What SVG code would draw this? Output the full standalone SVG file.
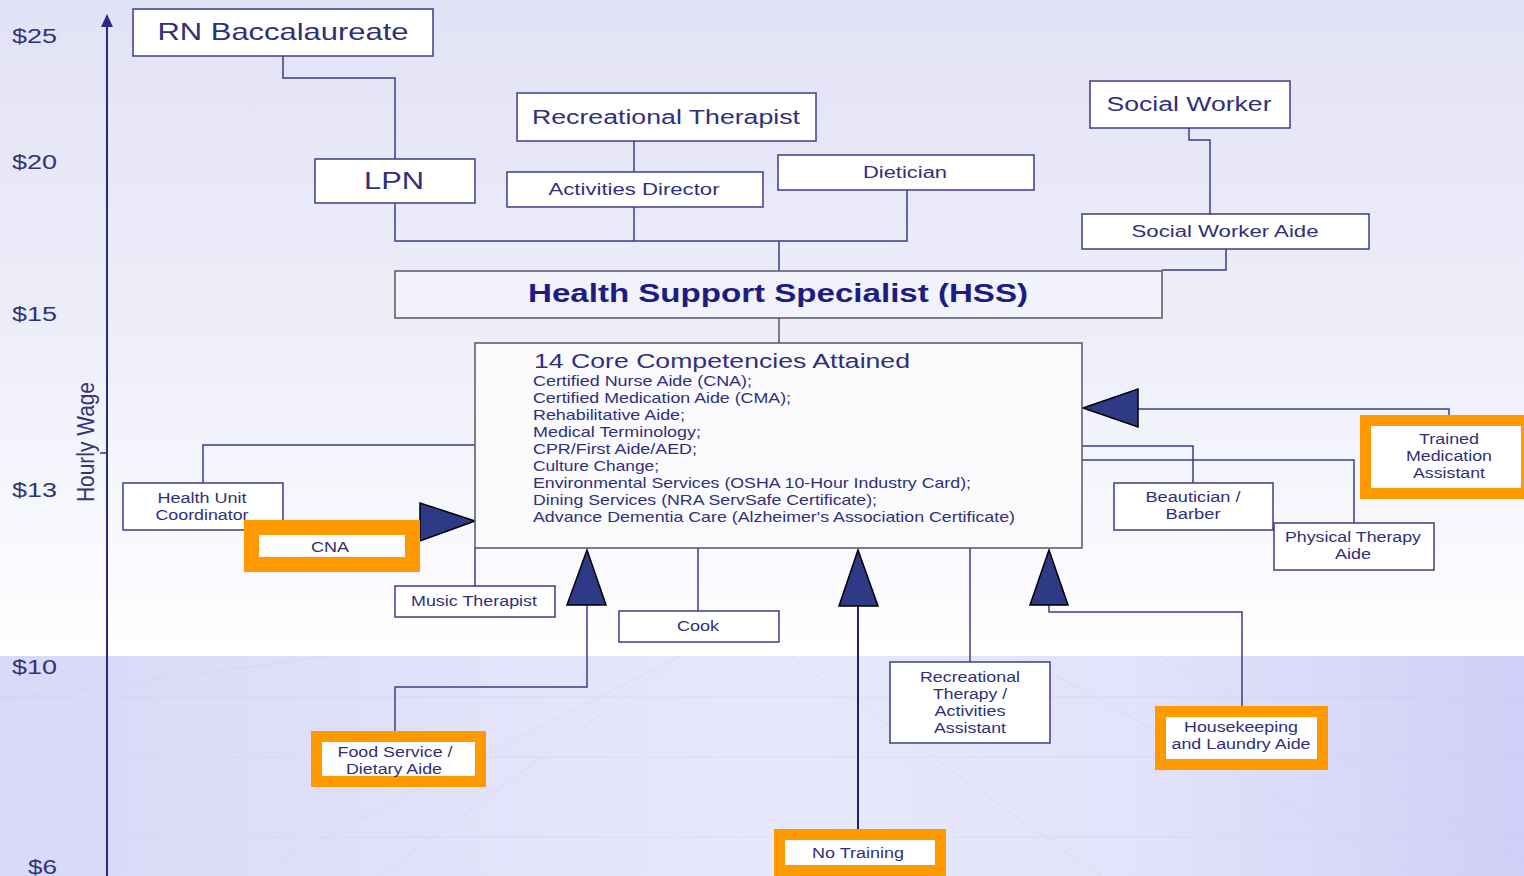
<svg xmlns="http://www.w3.org/2000/svg" width="1524" height="876" viewBox="0 0 1524 876">
<defs>
<linearGradient id="bgTop" x1="0" y1="0" x2="0" y2="1">
<stop offset="0" stop-color="#e2e2f6"/>
<stop offset="0.45" stop-color="#ececf9"/>
<stop offset="0.85" stop-color="#f9f9fe"/>
<stop offset="1" stop-color="#ffffff"/>
</linearGradient>
<linearGradient id="bgBot" x1="0" y1="0" x2="1" y2="0">
<stop offset="0" stop-color="#d8d8f8"/>
<stop offset="0.5" stop-color="#e8e8fb"/>
<stop offset="0.75" stop-color="#e2e2fa"/>
<stop offset="1" stop-color="#cfcff7"/>
</linearGradient>
</defs>
<style>
.box{fill:#ffffff;stroke:#3c3c8c;stroke-width:1.5}
.gbox{fill:#fbfbfe;stroke:#555566;stroke-width:1.5}
.obox{fill:#ffffff;stroke:#ff9900}
.t{font-family:"Liberation Sans",Arial,sans-serif;fill:#30307a}
.c{text-anchor:middle}
.big{font-size:24px}
.mid{font-size:20px}
.sm{font-size:16px}
.xs{font-size:14px}
.core{font-size:14.5px}
.hss{font-family:"Liberation Sans",Arial,sans-serif;font-weight:bold;font-size:26px;fill:#1c1c84;text-anchor:middle}
.ln{fill:none;stroke:#3c3c8c;stroke-width:1.5}
.gl{fill:none;stroke:#555566;stroke-width:1.5}
.tri{fill:#2e3a86;stroke:#000000;stroke-width:1.5;stroke-linejoin:miter}
.faint{stroke:#c9c9ef;stroke-width:1;opacity:0.35}
.wage{font-family:"Liberation Sans",Arial,sans-serif;font-size:20px;fill:#33337a}
</style>

<!-- background -->
<rect x="0" y="0" width="1524" height="656" fill="url(#bgTop)"/>
<rect x="0" y="656" width="1524" height="220" fill="url(#bgBot)"/>
<g class="faint">
<line x1="0" y1="697" x2="1524" y2="697"/>
<line x1="0" y1="757" x2="1524" y2="757"/>
<line x1="0" y1="837" x2="1524" y2="837"/>
<line x1="280" y1="860" x2="680" y2="656"/>
<line x1="380" y1="876" x2="680" y2="656"/>
<line x1="1160" y1="656" x2="1524" y2="860"/>
<line x1="1020" y1="656" x2="1420" y2="876"/>
<line x1="790" y1="656" x2="1100" y2="876"/>
<line x1="0" y1="700" x2="330" y2="656"/>
</g>

<!-- axis -->
<g id="axis">
<line x1="107" y1="26" x2="107" y2="876" stroke="#2b2b7e" stroke-width="2"/>
<polygon points="107,14 101,27 113,27" fill="#2b2b7e"/>
<line x1="100" y1="453" x2="107" y2="453" stroke="#2b2b7e" stroke-width="1.5"/>
<text class="wage" x="12" y="43" textLength="45" lengthAdjust="spacingAndGlyphs">$25</text>
<text class="wage" x="12" y="169" textLength="45" lengthAdjust="spacingAndGlyphs">$20</text>
<text class="wage" x="12" y="321" textLength="45" lengthAdjust="spacingAndGlyphs">$15</text>
<text class="wage" x="12" y="497" textLength="45" lengthAdjust="spacingAndGlyphs">$13</text>
<text class="wage" x="12" y="674" textLength="45" lengthAdjust="spacingAndGlyphs">$10</text>
<text class="wage" x="28" y="874" textLength="29" lengthAdjust="spacingAndGlyphs">$6</text>
<text class="wage" transform="translate(94,442) rotate(-90)" x="0" y="0" text-anchor="middle" style="font-size:23px" textLength="120" lengthAdjust="spacingAndGlyphs">Hourly Wage</text>
</g>

<!-- connectors -->
<g id="connectors">
<path class="ln" d="M283,56 V78 H395 V159"/>
<path class="ln" d="M395,203 V241 H907 V190"/>
<path class="ln" d="M634,141 V172"/>
<path class="ln" d="M634,207 V241"/>
<path class="ln" d="M779,241 V271"/>
<path class="ln" d="M1189,128 V140 H1210 V214"/>
<path class="ln" d="M1226,249 V270 H1162"/>
<path class="gl" d="M779,318 V343"/>
<path class="ln" d="M475,445 H203 V483"/>
<path class="ln" d="M475,548 V586"/>
<path class="ln" d="M395,731 V687 H587 V605"/>
<path class="ln" d="M698,548 V611"/>
<path class="ln" d="M858,829 V606" style="stroke:#22226e;stroke-width:2"/>
<path class="ln" d="M970,548 V662"/>
<path class="ln" d="M1242,706 V612 H1049 V605"/>
<path class="ln" d="M1449,415 V409 H1138"/>
<path class="ln" d="M1082,446 H1193 V483"/>
<path class="ln" d="M1082,460 H1354 V523"/>
<polygon class="tri" points="475,521 420,503 420,541"/>
<polygon class="tri" points="587,550 567,605 606,605"/>
<polygon class="tri" points="858,550 839,606 878,606"/>
<polygon class="tri" points="1049,550 1030,605 1068,605"/>
<polygon class="tri" points="1083,408 1138,389 1138,427"/>
</g>

<!-- nodes -->
<g id="rn">
<rect class="box" x="133" y="9" width="300" height="47"/>
<text class="t big c" x="283" y="40" textLength="251" lengthAdjust="spacingAndGlyphs">RN Baccalaureate</text>
</g>
<g id="lpn">
<rect class="box" x="315" y="159" width="160" height="44"/>
<text class="t big c" x="394" y="189" textLength="60" lengthAdjust="spacingAndGlyphs">LPN</text>
</g>
<g id="rec-therapist">
<rect class="box" x="517" y="93" width="299" height="48"/>
<text class="t mid c" x="666" y="124" textLength="268" lengthAdjust="spacingAndGlyphs">Recreational Therapist</text>
</g>
<g id="activities-director">
<rect class="box" x="507" y="172" width="256" height="35"/>
<text class="t sm c" x="634" y="195" textLength="171" lengthAdjust="spacingAndGlyphs">Activities Director</text>
</g>
<g id="dietician">
<rect class="box" x="778" y="155" width="256" height="35"/>
<text class="t sm c" x="905" y="178" textLength="84" lengthAdjust="spacingAndGlyphs">Dietician</text>
</g>
<g id="social-worker">
<rect class="box" x="1090" y="81" width="200" height="47"/>
<text class="t mid c" x="1189" y="111" textLength="165" lengthAdjust="spacingAndGlyphs">Social Worker</text>
</g>
<g id="social-worker-aide">
<rect class="box" x="1082" y="214" width="287" height="35"/>
<text class="t sm c" x="1225" y="237" textLength="187" lengthAdjust="spacingAndGlyphs">Social Worker Aide</text>
</g>
<g id="hss">
<rect class="gbox" x="395" y="271" width="767" height="47" style="fill:#f2f2fb"/>
<text class="hss" x="778" y="302" textLength="500" lengthAdjust="spacingAndGlyphs">Health Support Specialist (HSS)</text>
</g>
<g id="core">
<rect class="gbox" x="475" y="343" width="607" height="205"/>
<text class="t mid" x="534" y="368" textLength="376" lengthAdjust="spacingAndGlyphs">14 Core Competencies Attained</text>
<text class="t core" x="533" y="386" textLength="219" lengthAdjust="spacingAndGlyphs">Certified Nurse Aide (CNA);</text>
<text class="t core" x="533" y="403" textLength="258" lengthAdjust="spacingAndGlyphs">Certified Medication Aide (CMA);</text>
<text class="t core" x="533" y="420" textLength="152" lengthAdjust="spacingAndGlyphs">Rehabilitative Aide;</text>
<text class="t core" x="533" y="437" textLength="168" lengthAdjust="spacingAndGlyphs">Medical Terminology;</text>
<text class="t core" x="533" y="454" textLength="164" lengthAdjust="spacingAndGlyphs">CPR/First Aide/AED;</text>
<text class="t core" x="533" y="471" textLength="126" lengthAdjust="spacingAndGlyphs">Culture Change;</text>
<text class="t core" x="533" y="488" textLength="438" lengthAdjust="spacingAndGlyphs">Environmental Services (OSHA 10-Hour Industry Card);</text>
<text class="t core" x="533" y="505" textLength="344" lengthAdjust="spacingAndGlyphs">Dining Services (NRA ServSafe Certificate);</text>
<text class="t core" x="533" y="522" textLength="482" lengthAdjust="spacingAndGlyphs">Advance Dementia Care (Alzheimer's Association Certificate)</text>
</g>
<g id="health-unit-coordinator">
<rect class="box" x="123" y="483" width="160" height="47"/>
<text class="t xs c" x="202" y="503" textLength="89" lengthAdjust="spacingAndGlyphs">Health Unit</text>
<text class="t xs c" x="202" y="520" textLength="93" lengthAdjust="spacingAndGlyphs">Coordinator</text>
</g>
<g id="cna">
<rect class="obox" x="251.5" y="527.5" width="161" height="37" stroke-width="15"/>
<text class="t xs c" x="330" y="552" textLength="38" lengthAdjust="spacingAndGlyphs">CNA</text>
</g>
<g id="music-therapist">
<rect class="box" x="395" y="586" width="160" height="31"/>
<text class="t xs c" x="474" y="606" textLength="126" lengthAdjust="spacingAndGlyphs">Music Therapist</text>
</g>
<g id="cook">
<rect class="box" x="619" y="611" width="160" height="31"/>
<text class="t xs c" x="698" y="631" textLength="42" lengthAdjust="spacingAndGlyphs">Cook</text>
</g>
<g id="rec-therapy-assistant">
<rect class="box" x="890" y="662" width="160" height="81"/>
<text class="t xs c" x="970" y="682" textLength="100" lengthAdjust="spacingAndGlyphs">Recreational</text>
<text class="t xs c" x="970" y="699" textLength="74" lengthAdjust="spacingAndGlyphs">Therapy /</text>
<text class="t xs c" x="970" y="716" textLength="71" lengthAdjust="spacingAndGlyphs">Activities</text>
<text class="t xs c" x="970" y="733" textLength="72" lengthAdjust="spacingAndGlyphs">Assistant</text>
</g>
<g id="food-service">
<rect class="obox" x="316.5" y="736.5" width="164" height="45" stroke-width="11"/>
<text class="t xs c" x="395" y="757" textLength="115" lengthAdjust="spacingAndGlyphs">Food Service /</text>
<text class="t xs c" x="394" y="774" textLength="96" lengthAdjust="spacingAndGlyphs">Dietary Aide</text>
</g>
<g id="no-training">
<rect class="obox" x="779.5" y="834.5" width="161" height="36" stroke-width="11"/>
<text class="t xs c" x="858" y="858" textLength="92" lengthAdjust="spacingAndGlyphs">No Training</text>
</g>
<g id="housekeeping">
<rect class="obox" x="1160.5" y="711.5" width="162" height="53" stroke-width="11"/>
<text class="t xs c" x="1241" y="732" textLength="114" lengthAdjust="spacingAndGlyphs">Housekeeping</text>
<text class="t xs c" x="1241" y="749" textLength="139" lengthAdjust="spacingAndGlyphs">and Laundry Aide</text>
</g>
<g id="trained-med-assistant">
<rect class="obox" x="1365.5" y="420.5" width="161" height="73" stroke-width="11"/>
<text class="t xs c" x="1449" y="444" textLength="60" lengthAdjust="spacingAndGlyphs">Trained</text>
<text class="t xs c" x="1449" y="461" textLength="86" lengthAdjust="spacingAndGlyphs">Medication</text>
<text class="t xs c" x="1449" y="478" textLength="72" lengthAdjust="spacingAndGlyphs">Assistant</text>
</g>
<g id="beautician">
<rect class="box" x="1114" y="483" width="159" height="47"/>
<text class="t xs c" x="1193" y="502" textLength="95" lengthAdjust="spacingAndGlyphs">Beautician /</text>
<text class="t xs c" x="1193" y="519" textLength="55" lengthAdjust="spacingAndGlyphs">Barber</text>
</g>
<g id="pt-aide">
<rect class="box" x="1274" y="523" width="160" height="47"/>
<text class="t xs c" x="1353" y="542" textLength="136" lengthAdjust="spacingAndGlyphs">Physical Therapy</text>
<text class="t xs c" x="1353" y="559" textLength="36" lengthAdjust="spacingAndGlyphs">Aide</text>
</g>
</svg>
